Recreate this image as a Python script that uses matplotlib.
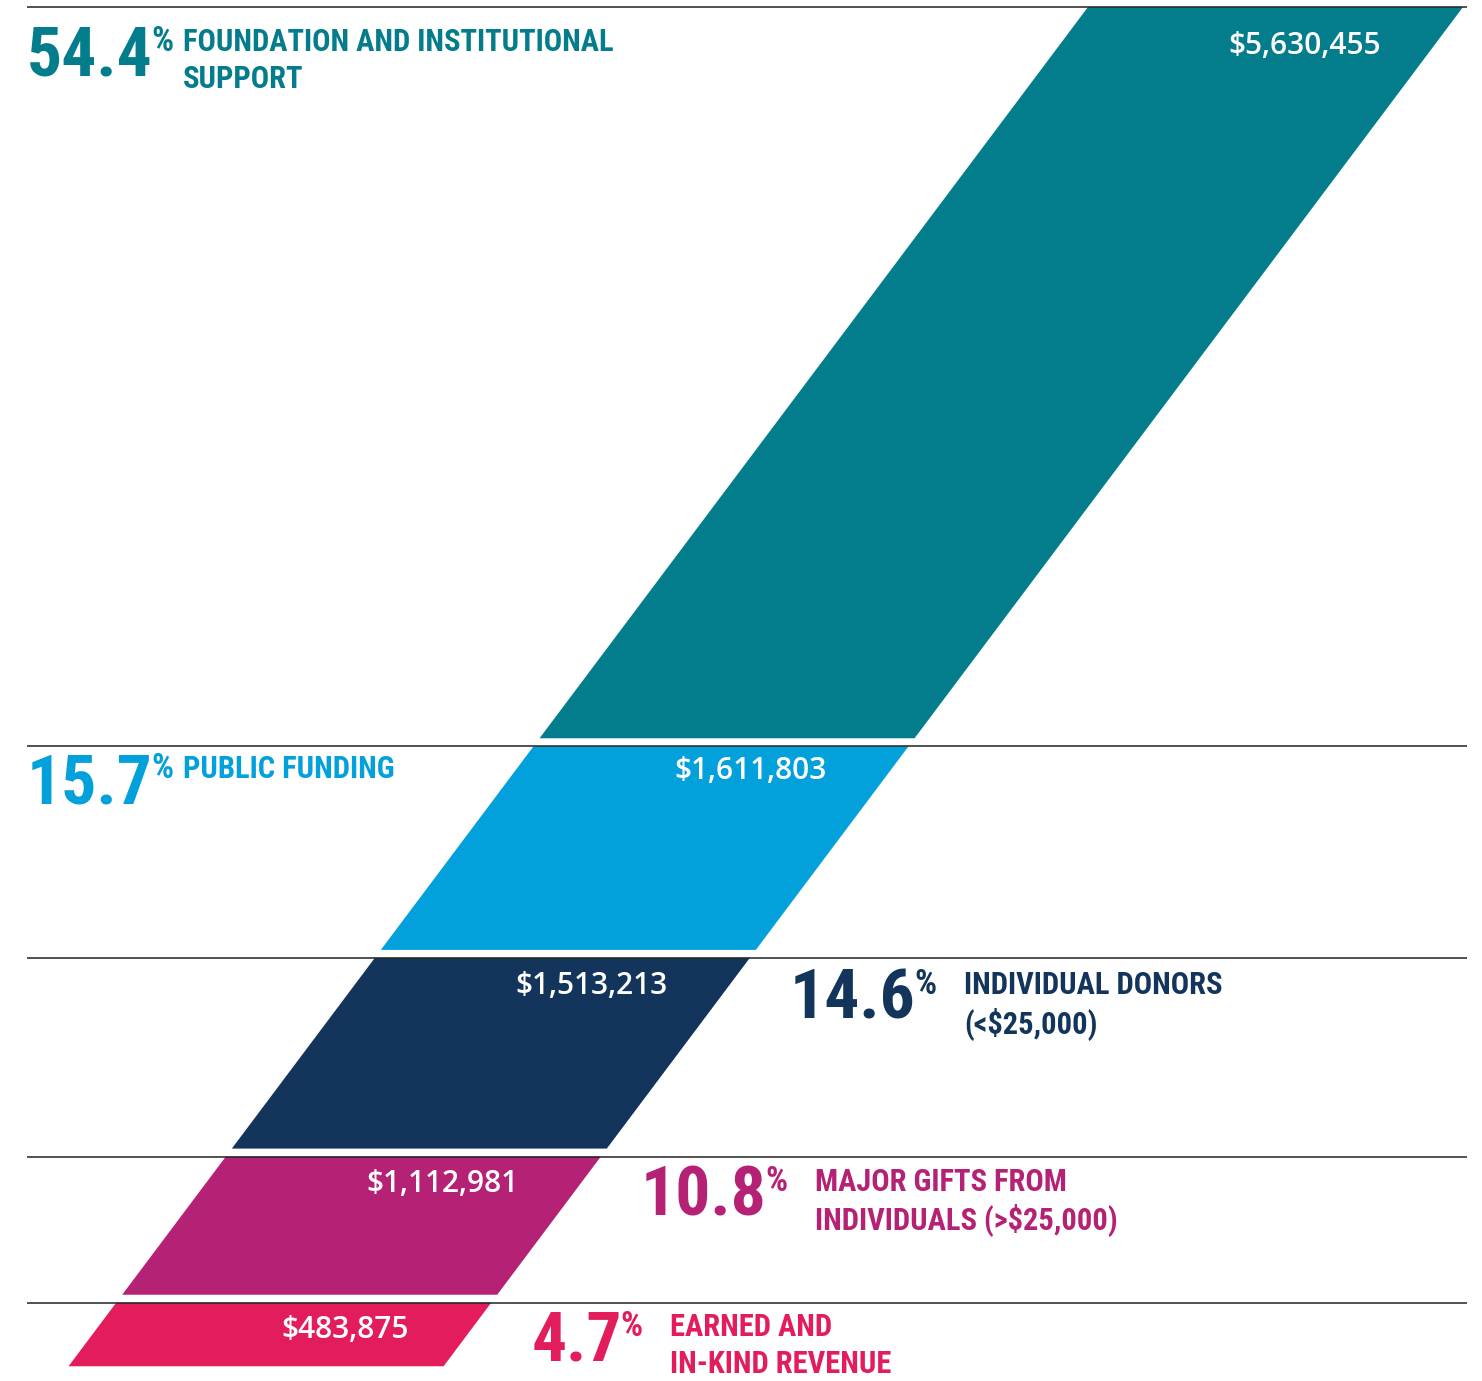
import numpy as np
import matplotlib
matplotlib.use('Agg')
import matplotlib.pyplot as plt
from matplotlib import font_manager
from matplotlib.patches import Polygon

# ------------------------------------------------------------------ data
categories = ['FOUNDATION AND INSTITUTIONAL\nSUPPORT',
              'PUBLIC FUNDING',
              'INDIVIDUAL DONORS\n(<$25,000)',
              'MAJOR GIFTS FROM\nINDIVIDUALS (>$25,000)',
              'EARNED AND\nIN-KIND REVENUE']
amounts = [5630455, 1611803, 1513213, 1112981, 483875]
percents = ['54.4', '15.7', '14.6', '10.8', '4.7']
colors = ['#037C8C', '#02A1DC', '#14355B', '#B52275', '#E31C5C']

# ---------------------------------------------------------------- layout
PX = 131.3            # figure pixels per million dollars
SLANT = 0.75          # horizontal shift per unit of height
X0 = 1088 / PX        # left edge of the first shape at the top
W = 375 / PX          # width of each parallelogram
GAP = 8 / PX          # white gap under each shape
label_side = ['left', 'left', 'right', 'right', 'right']
value_dy = [39, 25, 28, 27, 27]     # px below the band top
num_dy = [18, 6, 10, 8, 7]

fonts = font_manager.fontManager.ttflist
available = {f.name for f in fonts}


def pick(cands, default):
    for c in cands:
        if c in available:
            return c
    return default


def pick_semibold(cands, default):
    # a family that really has a medium / semibold face
    for c in cands:
        for f in fonts:
            w = f.weight if isinstance(f.weight, int) else font_manager.weight_dict.get(f.weight, 400)
            if f.name == c and 500 <= w <= 600 and f.style == 'normal':
                return c, w
    return default, 'bold'


COND = pick(['Roboto Condensed', 'Open Sans Condensed', 'Liberation Sans Narrow'], 'DejaVu Sans')
VALF, VALW = pick_semibold(['Open Sans', 'Noto Sans', 'Lato', 'Inter', 'Roboto'], 'Open Sans')
NUM_FS = 50
LAB_FS = 22


def px(n):
    return n / PX


values = np.array(amounts) / 1e6
ends = np.cumsum(values)
starts = ends - values

fig = plt.figure(figsize=(14.82, 13.81), dpi=100)
ax = fig.add_axes([0, 0, 1, 1])
ax.set_xlim(0, 1482 / PX)
ax.set_ylim((1381 - 7) / PX, -7 / PX)
ax.axis('off')

n = len(values)
for i in range(n):
    t = starts[i]
    b = ends[i] - (GAP if i < n - 1 else 0)
    xl_t = X0 - SLANT * t
    xl_b = X0 - SLANT * b
    ax.add_patch(Polygon([(xl_t, t), (xl_t + W, t), (xl_b + W, b), (xl_b, b)],
                         closed=True, facecolor=colors[i], edgecolor='none', zorder=2))

    # dollar amount
    ax.text(xl_t + W - px(82), t + px(value_dy[i]), f'${amounts[i]:,}',
            ha='right', va='center', color='white', fontsize=21.5,
            family=VALF, weight=VALW, zorder=4)

    # big percentage
    if label_side[i] == 'left':
        x = px(27)
    else:
        x = xl_t + W + px(40)
    y = t + px(num_dy[i])
    num = ax.text(x, y, percents[i], ha='left', va='top', color=colors[i],
                  fontsize=NUM_FS, family=COND, weight='heavy', zorder=4)
    pct = ax.annotate('%', xy=(1, 1), xycoords=num, xytext=(-1, 0),
                      textcoords='offset points', ha='left', va='top',
                      color=colors[i], fontsize=NUM_FS * 0.5, family=COND,
                      weight='bold')
    if label_side[i] == 'left':
        ax.text(px(183), y + px(2), categories[i], ha='left', va='top',
                color=colors[i], fontsize=LAB_FS, family=COND, weight='heavy',
                linespacing=1.3)
    else:
        ax.annotate(categories[i], xy=(1, 1), xycoords=pct, xytext=(20, -1.5),
                    textcoords='offset points', ha='left', va='top',
                    color=colors[i], fontsize=LAB_FS, family=COND,
                    weight='heavy', linespacing=1.3)

# separating rules
ax.hlines(np.r_[0, ends[:-1]], px(27), px(1467), color='#222222', lw=1.1, zorder=3)

fig.savefig('out.png', dpi=100, facecolor='white')
